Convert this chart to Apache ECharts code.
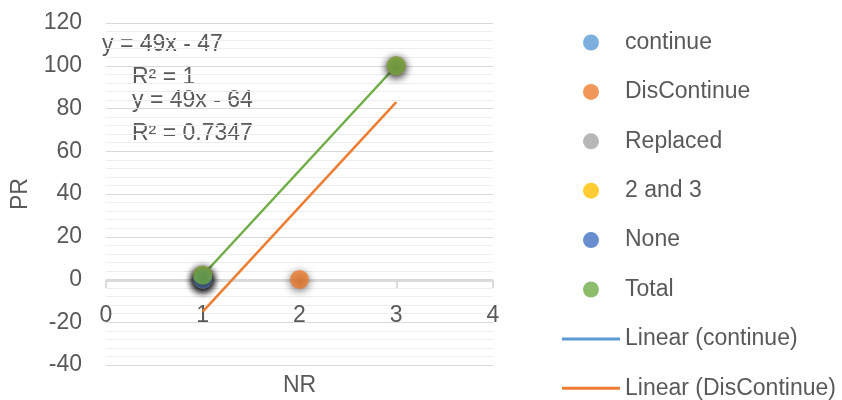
<!DOCTYPE html>
<html><head><meta charset="utf-8">
<script src="https://cdn.jsdelivr.net/npm/echarts@6/dist/echarts.min.js"></script>
<style>html,body{margin:0;padding:0;background:#fff}#c{width:842px;height:400px}</style>
</head><body><div id="c"></div>
<script>
const FONT = 'Liberation Sans';
const TXT = '#595959';
// data
const continueData = [[1, 0]];
const disContinueData = [[1, 2], [2, 0], [3, 100]];
const replacedData = [[1, 0]];
const twoAndThreeData = [[1, 0]];
const noneData = [[1, 0]];
const totalData = [[1, 2], [3, 100]];
const trendContinue = [];
const trendDisContinue = [[1, -15], [3, 83]];
const trendTotal = [[1, 2], [3, 100]];
const seriesNames = ['continue', 'DisContinue', 'Replaced', '2 and 3', 'None', 'Total'];
const seriesColors = ['#5B9BD5', '#ED7D31', '#A5A5A5', '#FFC000', '#4472C4', '#70AD47'];
const seriesData = [continueData, disContinueData, replacedData, twoAndThreeData, noneData, totalData];
const lineNames = ['Linear (continue)', 'Linear (DisContinue)'];
const labels = ['y = 49x - 47', 'R\u00B2 = 1', 'y = 49x - 64', 'R\u00B2 = 0.7347'];
const xTicks = [0, 1, 2, 3, 4];
const yTicks = [-40, -20, 0, 20, 40, 60, 80, 100, 120];

const chart = echarts.init(document.getElementById('c'), null, {renderer: 'canvas'});
const scatter = seriesNames.map((n, i) => ({
  name: n, type: 'scatter', data: seriesData[i], symbolSize: 19, z: 5,
  itemStyle: {color: seriesColors[i], shadowBlur: 8, shadowColor: 'rgba(0,0,0,0.7)', shadowOffsetY: 2}
}));
const lines = [
  {name: lineNames[0], type: 'line', data: trendContinue, symbol: 'none', showSymbol: false, z: 3,
   lineStyle: {color: '#5B9BD5', width: 3}, itemStyle: {color: '#5B9BD5'}},
  {name: lineNames[1], type: 'line', data: trendDisContinue, symbol: 'none', showSymbol: false, z: 3,
   lineStyle: {color: '#ED7D31', width: 2.5}, itemStyle: {color: '#ED7D31'}},
  {name: 'Linear (Total)', type: 'line', data: trendTotal, symbol: 'none', showSymbol: false, z: 3,
   lineStyle: {color: '#70AD47', width: 2.5}, itemStyle: {color: '#70AD47'}}
];
const legendData = seriesNames.map(n => ({name: n, icon: 'circle'}))
  .concat(lineNames.map(n => ({name: n, icon: 'path://M0,0H58V3H0Z'})));
chart.setOption({
  animation: false,
  textStyle: {fontFamily: FONT},
  grid: {left: 106, right: 349, top: 23, bottom: 35, containLabel: false, outerBoundsMode: 'none'},
  legend: {
    orient: 'vertical', left: 562, top: 31, padding: 0, itemWidth: 58, itemHeight: 16, itemGap: 26.4,
    symbolKeepAspect: true,
    data: legendData,
    itemStyle: {shadowBlur: 0, shadowColor: 'rgba(0,0,0,0)', shadowOffsetY: 0},
    textStyle: {fontFamily: FONT, fontSize: 23, color: TXT}
  },
  xAxis: {
    type: 'value', min: xTicks[0], max: xTicks[xTicks.length - 1], interval: 1,
    position: 'bottom', offset: -84,
    name: 'NR', nameLocation: 'middle', nameGap: 93,
    nameTextStyle: {fontFamily: FONT, fontSize: 23, color: TXT},
    axisLine: {onZero: false, lineStyle: {color: '#d0d0d0', width: 1.5}},
    axisTick: {show: true, length: 7, lineStyle: {color: '#d0d0d0', width: 1.5}},
    axisLabel: {fontFamily: FONT, fontSize: 23, color: TXT, margin: 23},
    splitLine: {show: false},
    minorSplitLine: {show: false}
  },
  yAxis: {
    type: 'value', min: yTicks[0], max: yTicks[yTicks.length - 1], interval: 20,
    name: 'PR', nameLocation: 'middle', nameGap: 74,
    nameTextStyle: {fontFamily: FONT, fontSize: 23, color: TXT},
    axisLine: {show: false, onZero: false}, axisTick: {show: false},
    axisLabel: {fontFamily: FONT, fontSize: 23, color: TXT, margin: 24},
    splitLine: {lineStyle: {color: '#d9d9d9', width: 1}},
    minorTick: {show: false, splitNumber: 5},
    minorSplitLine: {show: true, lineStyle: {color: '#eeeeee', width: 1}}
  },
  graphic: [
    {type: 'text', left: 102, top: 33, style: {text: labels[0], font: '23px "Liberation Sans"', fill: TXT}},
    {type: 'text', left: 132, top: 66, style: {text: labels[1], font: '23px "Liberation Sans"', fill: TXT}},
    {type: 'text', left: 132, top: 89, style: {text: labels[2], font: '23px "Liberation Sans"', fill: TXT}},
    {type: 'text', left: 132, top: 122, style: {text: labels[3], font: '23px "Liberation Sans"', fill: TXT}}
  ],
  series: lines.concat(scatter)
});
</script></body></html>
